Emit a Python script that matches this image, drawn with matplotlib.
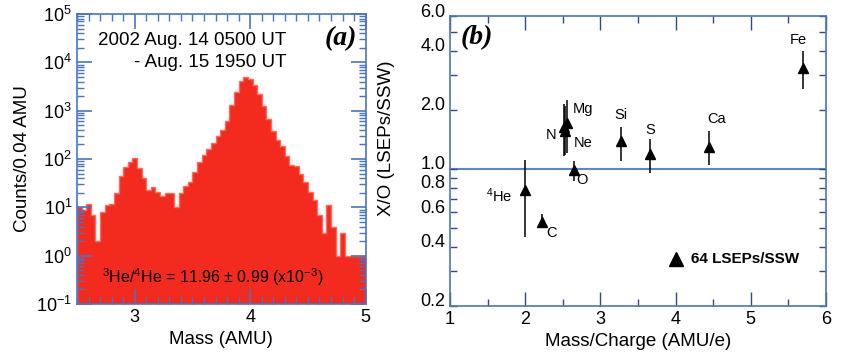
import numpy as np
import matplotlib
matplotlib.use('Agg')
import matplotlib.pyplot as plt
import matplotlib.transforms as mtransforms
from matplotlib.ticker import LogLocator, MultipleLocator, FixedLocator, NullFormatter

plt.rcParams['font.family'] = ['Liberation Sans', 'DejaVu Sans']
plt.rcParams['mathtext.fontset'] = 'custom'
plt.rcParams['mathtext.rm'] = 'Liberation Sans'
plt.rcParams['mathtext.it'] = 'Liberation Sans:italic'

# --- panel (a): helium mass histogram, 0.04 AMU bins from 2.5 AMU ---
bin_start = 2.5
bin_width = 0.04
counts = [10, 9, 12, 7, 2, 8, 11, 12, 20, 45, 68, 85, 107, 65, 40, 23, 26, 21, 17, 20,
          20, 10, 20, 28, 33, 53, 85, 122, 160, 219, 301, 401, 615, 1318, 2480, 4190,
          4920, 4470, 3410, 2223, 1257, 667, 388, 249, 187, 113, 76, 71, 49, 33, 21,
          14, 7, 3, 11, 4, 1, 3, 1, 1, 1, 1, 1]

# --- panel (b): X/O ratio vs mass/charge ---
elements = ['$^{4}$He', 'C', 'N', 'O', 'Ne', 'Mg', 'Si', 'S', 'Ca', 'Fe']
mq = [2.00, 2.23, 2.51, 2.65, 2.53, 2.56, 3.27, 3.66, 4.44, 5.69]
ratio = [0.775, 0.538, 1.64, 0.985, 1.55, 1.71, 1.38, 1.185, 1.29, 3.26]
err_hi = [1.11, 0.59, 2.13, 1.09, 2.10, 2.25, 1.64, 1.42, 1.55, 4.0]
err_lo = [0.449, 0.507, 1.16, 0.87, 1.18, 1.21, 1.10, 0.947, 1.05, 2.54]
# label anchor (x, y, horizontal alignment)
label_pos = [(1.83, 0.73, 'right'), (2.28, 0.47, 'left'), (2.42, 1.48, 'right'),
             (2.68, 0.877, 'left'), (2.64, 1.36, 'left'), (2.63, 2.02, 'left'),
             (3.27, 1.88, 'center'), (3.66, 1.58, 'center'), (4.55, 1.80, 'center'),
             (5.63, 4.52, 'center')]

blue = '#4a74c4'

fig = plt.figure(figsize=(8.43, 3.58), dpi=100)
ax1 = fig.add_axes([0.0913, 0.1508, 0.3425, 0.8102])
ax2 = fig.add_axes([0.5338, 0.1453, 0.4460, 0.8100])

# panel (a)
edges = bin_start + bin_width * np.arange(len(counts) + 1)
ax1.stairs(counts, edges, baseline=0.1, fill=True, facecolor='#f32a1e',
           edgecolor='#ff6a5e', linewidth=1.0)
ax1.set_yscale('log')
ax1.set_xlim(2.5, 5)
ax1.set_ylim(0.1, 1e5)
ax1.set_xticks([3, 4, 5])
ax1.xaxis.set_minor_locator(MultipleLocator(0.1))
ax1.yaxis.set_major_locator(LogLocator(base=10, numticks=10))
ax1.yaxis.set_minor_locator(LogLocator(base=10, subs=np.arange(2, 10), numticks=10))
ax1.yaxis.set_minor_formatter(NullFormatter())
ax1.tick_params(which='both', direction='in', top=True, right=True, color=blue,
                labelsize=13)
ax1.tick_params(which='major', length=11, width=1.2)
ax1.tick_params(which='minor', length=5, width=1.0)
for s in ax1.spines.values():
    s.set_color(blue)
    s.set_linewidth(1.2)
ax1.set_xlabel('Mass (AMU)', fontsize=13.5, labelpad=4)
ax1.set_ylabel('Counts/0.04 AMU', fontsize=13.5, labelpad=4)
ax1.text(0.724, 0.91, '2002 Aug. 14 0500 UT', transform=ax1.transAxes,
         ha='right', va='center', fontsize=13.5)
ax1.text(0.724, 0.831, '- Aug. 15 1950 UT', transform=ax1.transAxes,
         ha='right', va='center', fontsize=13.5)
ax1.text(0.969, 0.914, '(a)', transform=ax1.transAxes, ha='right', va='center',
         fontsize=20, family='Liberation Serif', style='italic', weight='bold')
ax1.text(0.086, 0.093, r'$^{3}$He/$^{4}$He = 11.96 ± 0.99 (x10$^{-3}$)',
         transform=ax1.transAxes, ha='left', va='center', fontsize=11.5)

# panel (b)
ax2.axhline(1.0, color='#5b86d0', linewidth=1.5, zorder=1)
yerr = [np.array(ratio) - np.array(err_lo), np.array(err_hi) - np.array(ratio)]
ax2.errorbar(mq, ratio, yerr=yerr, fmt='^', color='black', markersize=7.5,
             elinewidth=1.1, capsize=0, zorder=3)
for name, (lx, ly, ha) in zip(elements, label_pos):
    ax2.text(lx, ly, name, ha=ha, va='center', fontsize=10.5)
ax2.plot([4.0], [0.345], '^', color='black', markersize=10)
ax2.text(4.2, 0.345, '64 LSEPs/SSW', ha='left', va='center', fontsize=11,
         weight='bold')
ax2.text(0.027, 0.924, '(b)', transform=ax2.transAxes, ha='left', va='center',
         fontsize=20, family='Liberation Serif', style='italic', weight='bold')

ax2.set_yscale('log')
ax2.set_xlim(1, 6)
ax2.set_ylim(0.2, 6.0)
ax2.set_xticks([1, 2, 3, 4, 5, 6])
ax2.xaxis.set_minor_locator(MultipleLocator(0.5))
yt = [0.2, 0.4, 0.6, 0.8, 1.0, 2.0, 4.0, 6.0]
ax2.yaxis.set_major_locator(FixedLocator(yt))
ax2.set_yticklabels(['%.1f' % v for v in yt])
ax2.yaxis.set_minor_locator(FixedLocator([0.3, 0.5, 0.7, 0.9, 3.0, 5.0]))
ax2.yaxis.set_minor_formatter(NullFormatter())
ax2.tick_params(which='both', direction='in', top=True, right=True,
                color='#33498a', labelsize=13)
ax2.tick_params(which='major', length=10, width=1.0)
ax2.tick_params(which='minor', length=5, width=1.0)
ax2.tick_params(axis='y', which='major', length=5)
for s in ax2.spines.values():
    s.set_color(blue)
    s.set_linewidth(1.2)
ax2.set_xlabel('Mass/Charge (AMU/e)', fontsize=13.5, labelpad=4)
ax2.set_ylabel('X/O (LSEPs/SSW)', fontsize=13.5)
ax2.yaxis.set_label_coords(-0.145, 0.58)

# y tick labels of panel (b) sit a little above their ticks in the original
shift = mtransforms.ScaledTranslation(0, 6 / 100, fig.dpi_scale_trans)
for lab in ax2.get_yticklabels():
    lab.set_transform(lab.get_transform() + shift)

fig.savefig('out.png', dpi=100)
